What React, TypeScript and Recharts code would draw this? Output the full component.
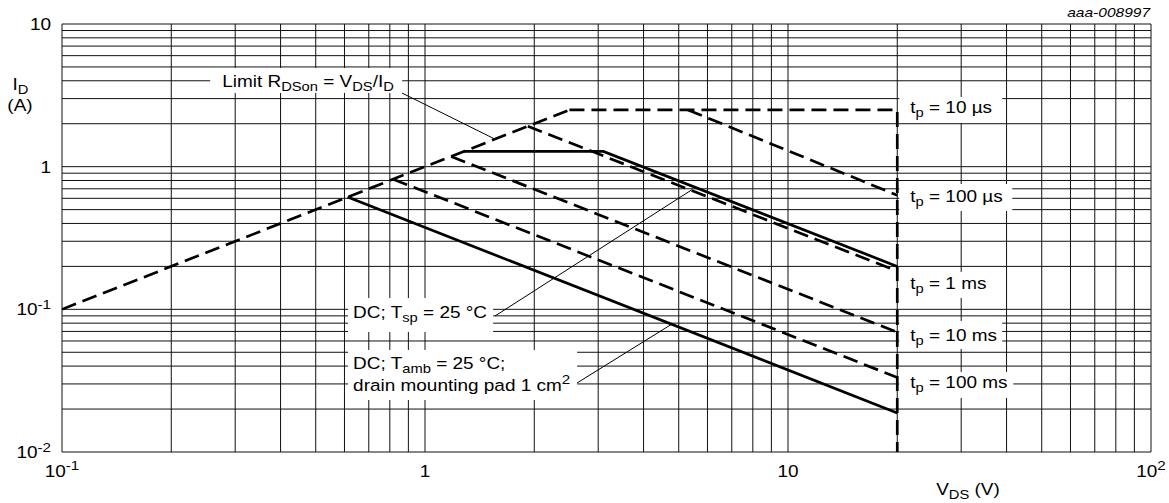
import React from 'react';
import { LineChart, Line, XAxis, YAxis, CartesianGrid, ReferenceDot, ReferenceLine } from 'recharts';

const FONT = '"Liberation Sans", Arial, Helvetica, sans-serif';
const STRETCH = 1.15;
const FS = 16.5;
const FS_SUB = 12.8;
const FS_SUP = 13.2;

// ---- axes (log decades + minor grid ticks) ----
const X_TICKS = [0.1, 0.2, 0.3, 0.4, 0.5, 0.6, 0.7, 0.8, 0.9, 1, 2, 3, 4, 5, 6, 7, 8, 9, 10, 20, 30, 40, 50, 60, 70, 80, 90, 100];
const Y_TICKS = [0.01, 0.02, 0.03, 0.04, 0.05, 0.06, 0.07, 0.08, 0.09, 0.1, 0.2, 0.3, 0.4, 0.5, 0.6, 0.7, 0.8, 0.9, 1, 2, 3, 4, 5, 6, 7, 8, 9, 10];
const X_DECADES = [0.1, 1, 10, 100];
const X_DECADE_BASE = ['10', '1', '10', '10'];
const X_DECADE_EXP = ['-1', '', '', '2'];
const Y_DECADES = [0.01, 0.1, 1, 10];
const Y_DECADE_BASE = ['10', '10', '1', '10'];
const Y_DECADE_EXP = ['-2', '-1', '', ''];

// ---- SOA curves: V_DS (V) vs I_D (A) ----
const LIMIT_RDSON = [{ v: 0.1, i: 0.1 }, { v: 2.5, i: 2.5 }];
const TP_10US = [{ v: 2.5, i: 2.5 }, { v: 20, i: 2.5 }, { v: 20, i: 0.01 }];
const TP_100US = [{ v: 5.3, i: 2.5 }, { v: 20, i: 0.63 }];
const TP_1MS = [{ v: 1.92, i: 1.92 }, { v: 20, i: 0.185 }];
const DC_TSP = [{ v: 1.28, i: 1.28 }, { v: 3.1, i: 1.28 }, { v: 20, i: 0.2 }];
const TP_10MS = [{ v: 1.18, i: 1.18 }, { v: 20, i: 0.069 }];
const TP_100MS = [{ v: 0.817, i: 0.817 }, { v: 20, i: 0.0333 }];
const DC_TAMB = [{ v: 0.612, i: 0.612 }, { v: 20, i: 0.0188 }];

const SERIES = [
  { name: 'limit', data: LIMIT_RDSON, dashed: true },
  { name: 'tp10us', data: TP_10US, dashed: true },
  { name: 'tp100us', data: TP_100US, dashed: true },
  { name: 'tp1ms', data: TP_1MS, dashed: true },
  { name: 'dcTsp', data: DC_TSP, dashed: false },
  { name: 'tp10ms', data: TP_10MS, dashed: true },
  { name: 'tp100ms', data: TP_100MS, dashed: true },
  { name: 'dcTamb', data: DC_TAMB, dashed: false },
];

type Seg = { t: string; k?: 'sub' | 'sup' };

// ---- annotation labels (anchor in data units, box in px) ----
const LABELS: { v: number; i: number; dx: number; w: number; h: number; tx: number; lines: { y: number; segs: Seg[] }[] }[] = [
  { v: 0.256, i: 4.92, dx: 0, w: 192, h: 25, tx: 12, lines: [{ y: 19, segs: [{ t: 'Limit R' }, { t: 'DSon', k: 'sub' }, { t: ' = V' }, { t: 'DS', k: 'sub' }, { t: '/I' }, { t: 'D', k: 'sub' }] }] },
  { v: 20, i: 3.08, dx: 2, w: 103, h: 26, tx: 11, lines: [{ y: 16.5, segs: [{ t: 't' }, { t: 'p', k: 'sub' }, { t: ' = 10 µs' }] }] },
  { v: 20, i: 0.756, dx: 2, w: 113, h: 27, tx: 11, lines: [{ y: 18.5, segs: [{ t: 't' }, { t: 'p', k: 'sub' }, { t: ' = 100 µs' }] }] },
  { v: 20, i: 0.183, dx: 2, w: 93, h: 26, tx: 11, lines: [{ y: 17, segs: [{ t: 't' }, { t: 'p', k: 'sub' }, { t: ' = 1 ms' }] }] },
  { v: 20, i: 0.0829, dx: 2, w: 103, h: 28, tx: 11, lines: [{ y: 20.5, segs: [{ t: 't' }, { t: 'p', k: 'sub' }, { t: ' = 10 ms' }] }] },
  { v: 20, i: 0.0364, dx: 2, w: 114, h: 26, tx: 11, lines: [{ y: 16, segs: [{ t: 't' }, { t: 'p', k: 'sub' }, { t: ' = 100 ms' }] }] },
  { v: 0.614, i: 0.12, dx: 0, w: 145, h: 34, tx: 5, lines: [{ y: 20, segs: [{ t: 'DC; T' }, { t: 'sp', k: 'sub' }, { t: ' = 25 °C' }] }] },
  {
    v: 0.614, i: 0.0519, dx: 0, w: 229, h: 50, tx: 5, lines: [
      { y: 19, segs: [{ t: 'DC; T' }, { t: 'amb', k: 'sub' }, { t: ' = 25 °C;' }] },
      { y: 41, segs: [{ t: 'drain mounting pad 1 cm' }, { t: '2', k: 'sup' }] },
    ],
  },
];

// leader lines from label boxes to curves (data units)
const LEADERS = [
  [{ x: 0.864, y: 3.284 }, { x: 1.559, y: 1.559 }],
  [{ x: 1.559, y: 0.0898 }, { x: 5.44, y: 0.69 }],
  [{ x: 2.493, y: 0.0281 }, { x: 4.79, y: 0.0789 }],
];

function RichText({ x, y, segs, anchor = 'start' }: { x: number; y: number; segs: Seg[]; anchor?: 'start' | 'middle' | 'end' }) {
  let shift = 0;
  const spans = segs.map((s, idx) => {
    const target = s.k === 'sub' ? 4 : s.k === 'sup' ? -6.5 : 0;
    const dy = target - shift;
    shift = target;
    return (
      <tspan key={idx} dy={dy} fontSize={s.k === 'sub' ? FS_SUB : s.k === 'sup' ? FS_SUP : FS}>
        {s.t}
      </tspan>
    );
  });
  return (
    <text
      transform={`translate(${x},${y}) scale(${STRETCH},1)`}
      textAnchor={anchor}
      fontFamily={FONT}
      fontSize={FS}
      fill="#000"
      style={{ whiteSpace: 'pre' }}
    >
      {spans}
    </text>
  );
}

function decadeIndex(list: number[], v: number) {
  return list.findIndex((d) => Math.abs(d - v) < d * 1e-6);
}

const XTick = (props: any) => {
  const { x, y, payload } = props;
  const k = decadeIndex(X_DECADES, payload.value);
  if (k < 0) return null;
  const segs: Seg[] = [{ t: X_DECADE_BASE[k] }];
  if (X_DECADE_EXP[k]) segs.push({ t: X_DECADE_EXP[k], k: 'sup' });
  return <RichText x={x} y={y + 24.5} segs={segs} anchor="middle" />;
};

const YTick = (props: any) => {
  const { x, y, payload } = props;
  const k = decadeIndex(Y_DECADES, payload.value);
  if (k < 0) return null;
  const segs: Seg[] = [{ t: Y_DECADE_BASE[k] }];
  if (Y_DECADE_EXP[k]) segs.push({ t: Y_DECADE_EXP[k], k: 'sup' });
  return <RichText x={x} y={y + 6} segs={segs} anchor="end" />;
};

const YTitle = (props: any) => {
  const vb = props.viewBox || { x: 0, y: 24, width: 62, height: 428 };
  return (
    <g>
      <RichText x={vb.x + 20.5} y={vb.y + 66} segs={[{ t: 'I' }, { t: 'D', k: 'sub' }]} anchor="middle" />
      <RichText x={vb.x + 20} y={vb.y + 87} segs={[{ t: '(A)' }]} anchor="middle" />
    </g>
  );
};

const XTitle = (props: any) => {
  const vb = props.viewBox || { x: 62, y: 452, width: 1089, height: 51 };
  return <RichText x={vb.x + 906} y={vb.y + 43} segs={[{ t: 'V' }, { t: 'DS', k: 'sub' }, { t: ' (V)' }]} anchor="middle" />;
};

export default function App() {
  return (
    <div style={{ position: 'fixed', left: 0, top: 0, width: 1169, height: 503, background: '#fff' }}>
      <LineChart width={1169} height={503} margin={{ top: 24, right: 18, bottom: 0, left: 0 }}>
        <CartesianGrid stroke="#111" strokeWidth={1} fill="none" />
        <XAxis
          type="number"
          dataKey="v"
          scale="log"
          domain={[0.1, 100]}
          ticks={X_TICKS}
          interval={0}
          allowDataOverflow
          height={51}
          tickLine={false}
          axisLine={false}
          tickSize={0}
          tickMargin={0}
          tick={<XTick />}
          label={<XTitle />}
        />
        <YAxis
          type="number"
          dataKey="i"
          scale="log"
          domain={[0.01, 10]}
          ticks={Y_TICKS}
          interval={0}
          allowDataOverflow
          width={62}
          tickLine={false}
          axisLine={false}
          tickSize={0}
          tickMargin={11}
          tick={<YTick />}
          label={<YTitle />}
        />
        {LABELS.map((lb, idx) => (
          <ReferenceDot
            key={'lb' + idx}
            x={lb.v}
            y={lb.i}
            r={1}
            ifOverflow="visible"
            shape={(p: any) => (
              <g>
                <rect x={p.cx + lb.dx} y={p.cy} width={lb.w} height={lb.h} fill="#fff" stroke="none" />
                {lb.lines.map((ln, j) => (
                  <RichText key={j} x={p.cx + lb.dx + lb.tx} y={p.cy + ln.y} segs={ln.segs} />
                ))}
              </g>
            )}
          />
        ))}
        {LEADERS.map((seg, idx) => (
          <ReferenceLine key={'ld' + idx} segment={seg} stroke="#000" strokeWidth={1} ifOverflow="visible" />
        ))}
        {SERIES.map((s) => (
          <Line
            key={s.name}
            data={s.data}
            dataKey="i"
            type="linear"
            stroke="#000"
            strokeWidth={2.7}
            strokeDasharray={s.dashed ? '15 7' : undefined}
            dot={false}
            activeDot={false}
            isAnimationActive={false}
          />
        ))}
      </LineChart>
      <div
        style={{
          position: 'absolute',
          right: 18.5,
          top: 5.6,
          fontFamily: FONT,
          fontStyle: 'italic',
          fontSize: 13.5,
          lineHeight: '13.5px',
          whiteSpace: 'nowrap',
          transform: `scaleX(${STRETCH})`,
          transformOrigin: 'right center',
          color: '#000',
        }}
      >
        aaa-008997
      </div>
    </div>
  );
}
